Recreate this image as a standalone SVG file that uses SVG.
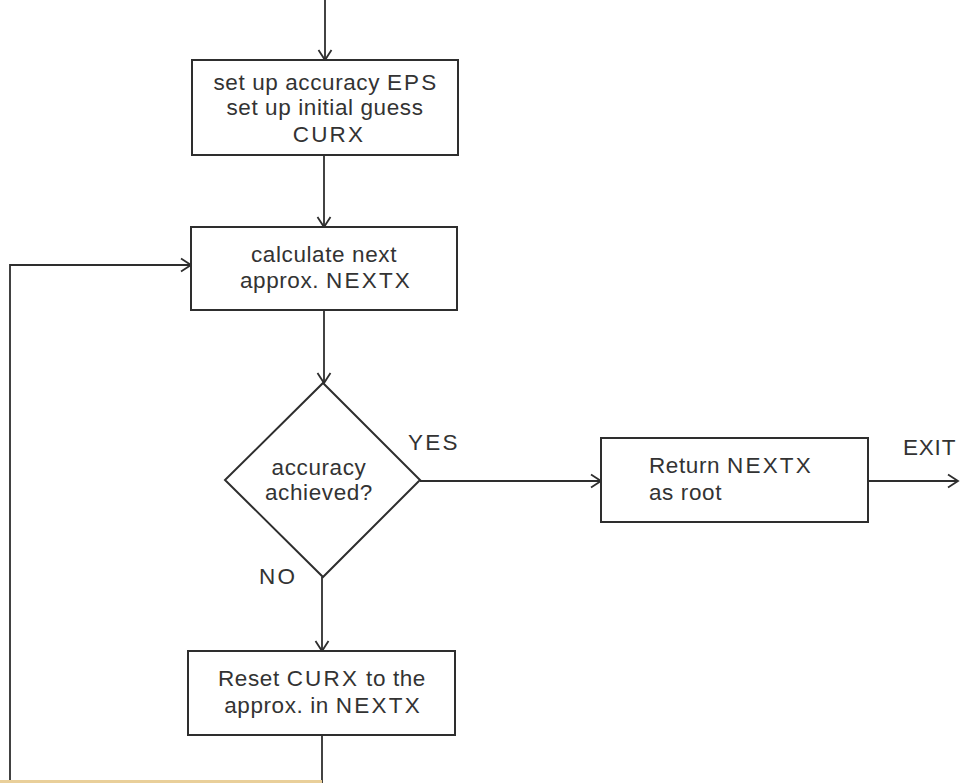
<svg xmlns="http://www.w3.org/2000/svg" width="960" height="783" viewBox="0 0 960 783">
  <defs>
    <marker id="arrow" markerWidth="16" markerHeight="16" refX="12" refY="8" orient="auto" markerUnits="userSpaceOnUse">
      <path d="M2,1.5 L12,8 L2,14.5" fill="none" stroke="#2e2e2e" stroke-width="1.8"/>
    </marker>
    <style>
      .box { fill: #ffffff; stroke: #2e2e2e; stroke-width: 2; }
      .line { fill: none; stroke: #2e2e2e; stroke-width: 1.8; }
      .lbl { font-family: "Liberation Sans", Arial, sans-serif; font-size: 22.5px; fill: #333333; letter-spacing: 0.6px; }
      .caps { letter-spacing: 2.2px; }
      .c { text-anchor: middle; }
    </style>
  </defs>

  <rect x="0" y="0" width="960" height="783" fill="#ffffff"/>

  <!-- connectors -->
  <g id="connectors">
    <line class="line" x1="325" y1="0" x2="325" y2="60" marker-end="url(#arrow)"/>
    <line class="line" x1="324" y1="155" x2="324" y2="227" marker-end="url(#arrow)"/>
    <line class="line" x1="324" y1="310" x2="324" y2="383" marker-end="url(#arrow)"/>
    <line class="line" x1="420" y1="481" x2="601" y2="481" marker-end="url(#arrow)"/>
    <line class="line" x1="868" y1="481" x2="958" y2="481" marker-end="url(#arrow)"/>
    <line class="line" x1="322" y1="577" x2="322" y2="651" marker-end="url(#arrow)"/>
    <polyline class="line" points="322,735 322,783"/>
    <polyline class="line" points="10,783 10,265 191,265" marker-end="url(#arrow)"/>
    <rect x="0" y="780" width="322" height="3" fill="#e9cf9a"/>
    <text class="lbl caps" x="408" y="450">YES</text>
    <text class="lbl caps" x="259" y="584">NO</text>
    <text class="lbl" x="903" y="455" style="letter-spacing:0.8px">EXIT</text>
  </g>

  <!-- initialisation -->
  <g id="init">
    <rect class="box" x="192" y="60" width="266" height="95"/>
    <text class="lbl c" x="326" y="90">set up accuracy <tspan class="caps">EPS</tspan></text>
    <text class="lbl c" x="325" y="115">set up initial guess</text>
    <text class="lbl c caps" x="329" y="142">CURX</text>
  </g>

  <!-- next approximation -->
  <g id="calc">
    <rect class="box" x="191" y="227" width="266" height="83"/>
    <text class="lbl c" x="324" y="262">calculate next</text>
    <text class="lbl c" x="326" y="288">approx. <tspan class="caps">NEXTX</tspan></text>
  </g>

  <!-- accuracy test -->
  <g id="test">
    <polygon class="box" points="323,383 420,480 323,577 225,480"/>
    <text class="lbl c" x="319" y="475">accuracy</text>
    <text class="lbl c" x="319" y="500">achieved?</text>
  </g>

  <!-- result -->
  <g id="result">
    <rect class="box" x="601" y="438" width="267" height="84"/>
    <text class="lbl" x="649" y="473">Return <tspan class="caps">NEXTX</tspan></text>
    <text class="lbl" x="649" y="500">as root</text>
  </g>

  <!-- reset guess -->
  <g id="reset">
    <rect class="box" x="188" y="651" width="267" height="84"/>
    <text class="lbl c" x="322" y="686">Reset <tspan class="caps">CURX</tspan> to the</text>
    <text class="lbl c" x="323" y="713">approx. in <tspan class="caps">NEXTX</tspan></text>
  </g>
</svg>
